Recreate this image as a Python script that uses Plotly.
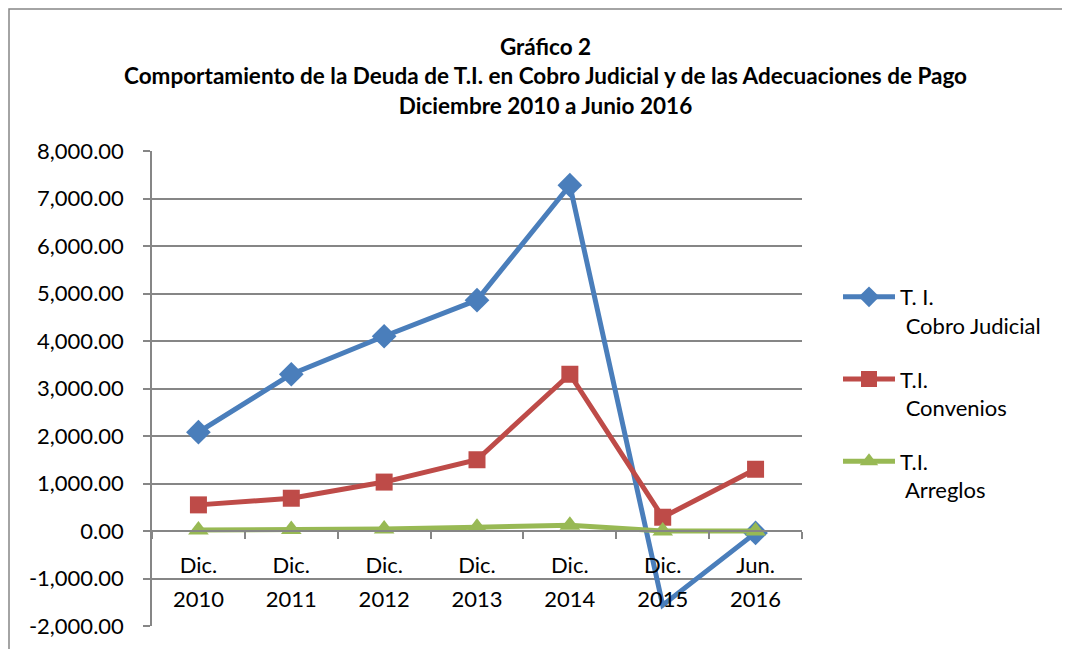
import plotly.graph_objects as go

categories = ["Dic. 2010", "Dic. 2011", "Dic. 2012", "Dic. 2013", "Dic. 2014", "Dic. 2015", "Jun. 2016"]
months = ["Dic.", "Dic.", "Dic.", "Dic.", "Dic.", "Dic.", "Jun."]
years = ["2010", "2011", "2012", "2013", "2014", "2015", "2016"]
cobro_judicial = [2080, 3300, 4100, 4860, 7280, -1560, -40]
convenios = [550, 690, 1030, 1500, 3300, 290, 1300]
arreglos = [20, 30, 40, 80, 120, 0, 0]
names = ["T. I.<br>\u00a0Cobro Judicial", "T.I.<br>\u00a0Convenios", "T.I.<br>\u00a0Arreglos"]
y_ticks = list(range(-2000, 8001, 1000))
y_ticktext = [f"{v:,.2f}" for v in y_ticks]

FONT = "Lato"
OFF = 8  # page body margin
W, H = 1070 - OFF, 649 - OFF
L, R, T, B = 152, 802, 151, 626  # reference pixel positions of plot area
pw, ph = R - L, B - T

def px(x):
    return (x - L) / pw

def py(y):
    return (B - y) / ph

# the Dic. 2015 point of Cobro Judicial shows no marker in the original
cobro_marker_sizes = [19, 19, 19, 19, 19, 0, 19]

fig = go.Figure()
# invisible carriers for the two label axes (month line and year line)
for ax in ("x2", "x3"):
    fig.add_trace(go.Scatter(x=categories, y=arreglos, xaxis=ax, mode="none",
                             showlegend=False, hoverinfo="skip"))
fig.add_trace(go.Scatter(x=categories, y=cobro_judicial, name=names[0], legendgroup="a", mode="lines+markers",
                         line=dict(color="#4A7EBB", width=5),
                         marker=dict(symbol="diamond", size=cobro_marker_sizes, color="#4A7EBB",
                                     opacity=1, line=dict(width=0))))
fig.add_trace(go.Scatter(x=categories, y=convenios, name=names[1], legendgroup="b", mode="lines+markers",
                         line=dict(color="#BE4B48", width=5),
                         marker=dict(symbol="square", size=17, color="#BE4B48")))
fig.add_trace(go.Scatter(x=categories, y=arreglos, name=names[2], legendgroup="c", mode="lines+markers",
                         line=dict(color="#98B954", width=5),
                         marker=dict(symbol="triangle-up", size=18, color="#98B954")))

label_axis = dict(type="category", overlaying="x", anchor="free", position=py(531),
                  categoryorder="array", categoryarray=categories, range=[-0.5, 6.5],
                  tickvals=categories, showline=False, showgrid=False, ticks="",
                  tickfont=dict(family=FONT, size=22, color="black"))

fig.update_layout(
    width=W, height=H,
    margin=dict(l=L - OFF, r=W - (R - OFF), t=T - OFF, b=H - (B - OFF), autoexpand=False),
    paper_bgcolor="white", plot_bgcolor="white",
    font=dict(family=FONT, size=22, color="black"),
    showlegend=True,
    legend=dict(x=px(838), y=py(276), xanchor="left", yanchor="top",
                font=dict(family=FONT, size=22, color="black"),
                valign="top", tracegroupgap=22, itemwidth=52,
                bgcolor="rgba(0,0,0,0)"),
    xaxis=dict(type="category", anchor="free", position=py(531),
               categoryorder="array", categoryarray=categories,
               showline=True, linecolor="#868686", linewidth=1.5,
               ticks="outside", tickson="boundaries", ticklen=7, tickcolor="#868686",
               tickwidth=1.5, showgrid=False, range=[-0.5, 6.5], showticklabels=False),
    xaxis2=dict(label_axis, ticktext=months, ticklabelstandoff=19),
    xaxis3=dict(label_axis, ticktext=years, ticklabelstandoff=53),
    yaxis=dict(range=[-2000, 8000], tickvals=y_ticks, ticktext=y_ticktext,
               showline=True, linecolor="#868686", linewidth=1.5,
               ticks="outside", ticklen=7, tickcolor="#868686", tickwidth=1.5,
               showgrid=True, gridcolor="#868686", gridwidth=1.5, zeroline=False,
               ticklabelstandoff=15,
               tickfont=dict(family=FONT, size=22, color="black")),
    annotations=[dict(xref="paper", yref="paper", x=px(545), y=py(31), xanchor="center", yanchor="top",
                      text="<b>Gráfico 2</b><br><b>Comportamiento de la Deuda de T.I. en Cobro Judicial y de las Adecuaciones de Pago</b><br><b>Diciembre 2010 a Junio 2016</b>",
                      showarrow=False, align="center",
                      font=dict(family=FONT, size=22.5, color="black"))],
    shapes=[dict(type="rect", xref="paper", yref="paper", x0=px(9), x1=px(1064), y0=py(9), y1=py(690),
                 line=dict(color="#868686", width=1.5), fillcolor="rgba(0,0,0,0)", layer="below")],
)

fig.write_html("out.html")
